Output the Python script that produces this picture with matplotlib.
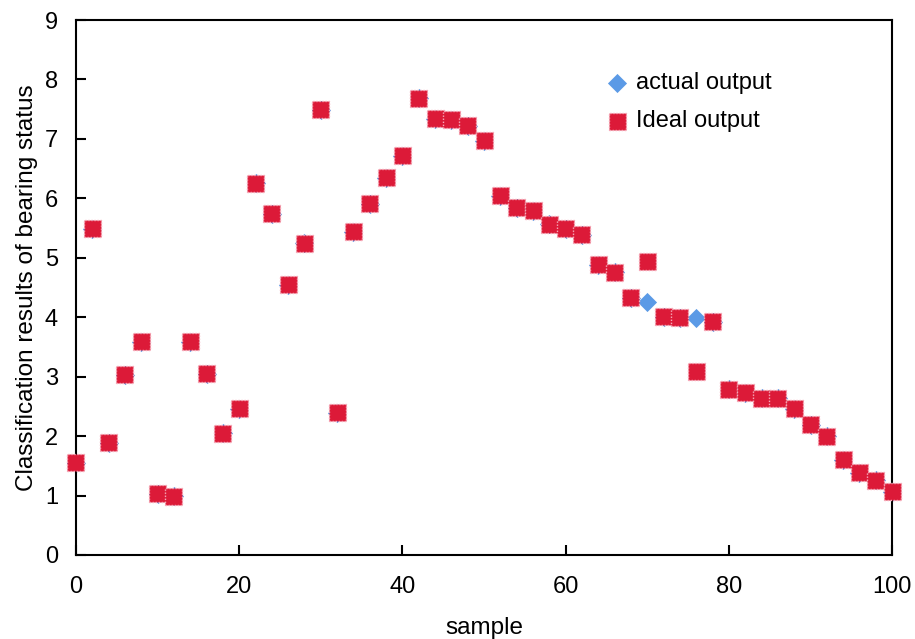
import matplotlib
matplotlib.use("Agg")
import matplotlib.pyplot as plt

plt.rcParams['font.family'] = ['Liberation Sans', 'DejaVu Sans']

samples = list(range(0, 101, 2))
ideal_output = [1.55, 5.49, 1.89, 3.03, 3.59, 1.03, 0.99, 3.59, 3.05, 2.05,
                2.46, 6.25, 5.74, 4.55, 5.24, 7.49, 2.39, 5.44, 5.91, 6.35,
                6.72, 7.68, 7.34, 7.32, 7.22, 6.97, 6.04, 5.84, 5.79, 5.56,
                5.49, 5.39, 4.88, 4.76, 4.33, 4.93, 4.01, 3.99, 3.08, 3.92,
                2.79, 2.73, 2.64, 2.64, 2.46, 2.19, 2.00, 1.60, 1.38, 1.26,
                1.06]
actual_output = [1.55, 5.49, 1.89, 3.03, 3.59, 1.03, 0.99, 3.59, 3.05, 2.05,
                 2.46, 6.25, 5.74, 4.55, 5.24, 7.49, 2.39, 5.44, 5.91, 6.35,
                 6.72, 7.68, 7.34, 7.32, 7.22, 6.97, 6.04, 5.84, 5.79, 5.56,
                 5.49, 5.39, 4.88, 4.76, 4.33, 4.25, 4.01, 3.99, 3.98, 3.92,
                 2.79, 2.73, 2.64, 2.64, 2.46, 2.19, 2.00, 1.60, 1.38, 1.26,
                 1.06]

fig = plt.figure(figsize=(9.15, 6.39), dpi=100)
ax = fig.add_axes([0.083, 0.1315, 0.892, 0.8372])

ax.scatter(samples, actual_output, marker='D', s=95, color='#5B9AE6',
           linewidths=0, label='actual output', zorder=2, clip_on=False)
ax.scatter(samples, ideal_output, marker='s', s=150, facecolor='#DC1A38',
           edgecolor='#F6A9B8', linewidths=1.0, linestyle=(0, (1, 1.2)),
           label='Ideal output', zorder=3, clip_on=False)

ax.set_xlim(0, 100)
ax.set_ylim(0, 9)
ax.set_xticks(range(0, 101, 20))
ax.set_yticks(range(0, 10))
ax.tick_params(direction='in', length=7, width=1.5, labelsize=17,
               top=False, right=False)
ax.tick_params(axis='x', pad=15)
ax.tick_params(axis='y', pad=13)
for s in ax.spines.values():
    s.set_linewidth(1.5)

ax.set_xlabel('sample', fontsize=17.5, labelpad=14)
ax.set_ylabel('Classification results of bearing status', fontsize=17.5, labelpad=5)

leg = ax.legend(loc='upper left', bbox_to_anchor=(0.64, 0.925), frameon=False,
                fontsize=17, handlelength=0.6, handletextpad=0.5,
                labelspacing=0.7, borderpad=0, scatterpoints=1)

fig.savefig('out.png', dpi=100)
